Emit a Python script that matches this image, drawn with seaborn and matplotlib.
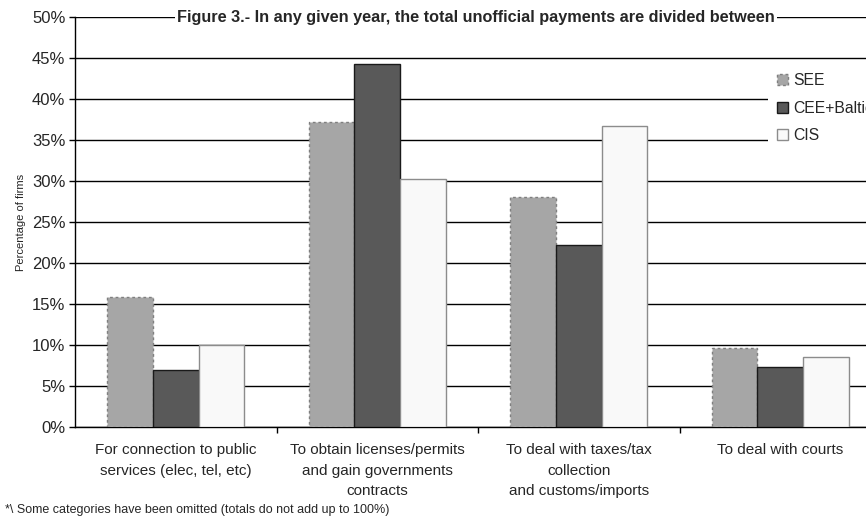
import matplotlib
matplotlib.use("Agg")
import matplotlib.pyplot as plt
import seaborn as sns
import pandas as pd
from matplotlib.patches import Patch

categories = ["For connection to public\nservices (elec, tel, etc)",
              "To obtain licenses/permits\nand gain governments\ncontracts",
              "To deal with taxes/tax\ncollection\nand customs/imports",
              "To deal with courts"]
series = ["SEE", "CEE+Baltic", "CIS"]
see = [15.9, 37.2, 28.0, 9.6]
cee = [7.0, 44.3, 22.2, 7.3]
cis = [10.0, 30.3, 36.7, 8.5]
yticks = [0, 5, 10, 15, 20, 25, 30, 35, 40, 45, 50]

colors = {"SEE": "#a6a6a6", "CEE+Baltic": "#595959", "CIS": "#f9f9f9"}
edges = {"SEE": "#7f7f7f", "CEE+Baltic": "#1a1a1a", "CIS": "#8c8c8c"}
styles = {"SEE": (0, (2, 2)), "CEE+Baltic": "solid", "CIS": "solid"}

rows = []
for s, vals in zip(series, [see, cee, cis]):
    for c, v in zip(categories, vals):
        rows.append({"cat": c, "series": s, "value": v})
df = pd.DataFrame(rows)

sns.set_style("white")
plt.rcParams['font.family'] = ['Liberation Sans', 'DejaVu Sans']

fig = plt.figure(figsize=(8.66, 5.22), dpi=100)
ax = fig.add_axes([75/866, 1-427/522, 806/866, 410/522])

sns.barplot(data=df, x="cat", y="value", hue="series", order=categories,
            hue_order=series, palette=colors, width=0.68, ax=ax,
            legend=False, zorder=3, saturation=1)

for i, s in enumerate(series):
    cont = ax.containers[i]
    for p in cont.patches:
        p.set_edgecolor(edges[s])
        p.set_linewidth(1.0)
        p.set_linestyle(styles[s])

ax.set_ylim(0, 50)
ax.set_xlim(-0.5, 3.5)
ax.set_yticks(yticks)
ax.set_yticklabels([f"{t}%" for t in yticks], fontsize=12)
ax.yaxis.grid(True, color="black", linewidth=1.0, zorder=0)
ax.set_axisbelow(True)
for sp in ["top", "right"]:
    ax.spines[sp].set_visible(False)
ax.spines["left"].set_color("black")
ax.spines["bottom"].set_color("black")
ax.spines["left"].set_linewidth(1.0)
ax.spines["bottom"].set_linewidth(1.0)
ax.tick_params(axis="y", which="major", left=True, length=4, width=1, color="black", pad=3)
ax.tick_params(axis="x", which="major", bottom=False, pad=8)
ax.set_xticks([0.5, 1.5, 2.5], minor=True)
ax.tick_params(axis="x", which="minor", bottom=True, length=4, width=1, color="black")
ax.set_xticklabels(categories, fontsize=11, linespacing=1.6)
ax.set_xlabel("")
ax.set_ylabel("Percentage of firms", fontsize=8, labelpad=4)

title_x = (476 - 75) / 806 * 4 - 0.5
ax.text(title_x, 50, "Figure 3.- In any given year, the total unofficial payments are divided between",
        ha="center", va="center", fontsize=11.7, fontweight="bold", zorder=5,
        bbox=dict(facecolor="white", edgecolor="none", pad=1.5))

handles = [Patch(facecolor=colors[s], edgecolor=edges[s], linestyle=styles[s], label=s) for s in series]
leg = ax.legend(handles=handles, loc="upper left", bbox_to_anchor=(760/866, 1-56/522),
                bbox_transform=fig.transFigure, frameon=True, framealpha=1.0,
                fontsize=11.3,
                handlelength=0.7, handleheight=0.7, handletextpad=0.3,
                labelspacing=0.8, borderpad=0.6, fancybox=False)
leg.get_frame().set_facecolor("white")
leg.get_frame().set_edgecolor("none")
leg.set_zorder(6)

fig.text(5/866, 1-510/522, "*\\ Some categories have been omitted (totals do not add up to 100%)",
         fontsize=9, ha="left", va="center")

fig.savefig("out.png", dpi=100)
